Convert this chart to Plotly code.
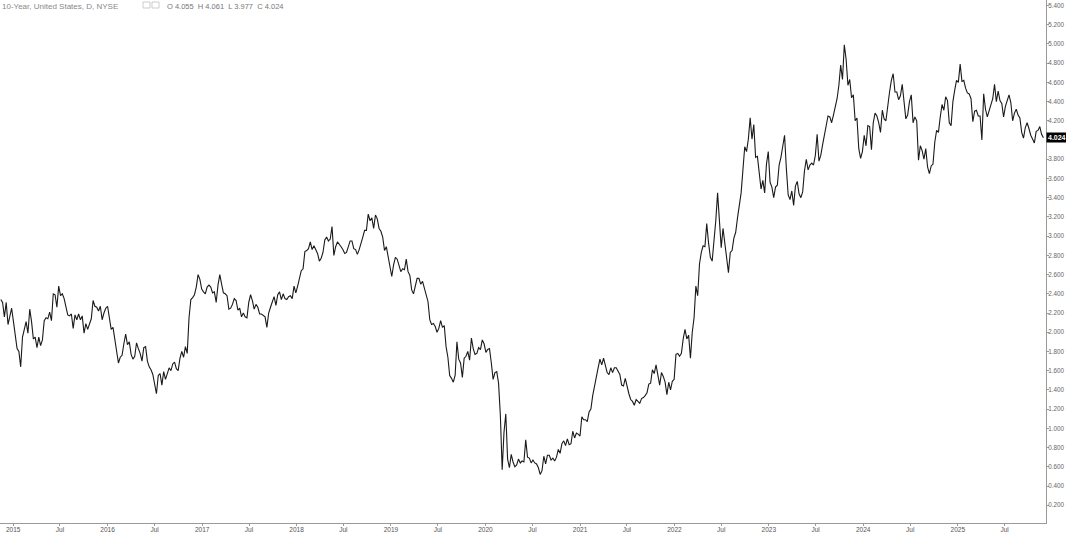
import pandas as pd
import plotly.graph_objects as go

# ---- data: weekly (Friday) closes of the US 10-Year yield ----
start_2014 = "2014-11-14"
y2014 = [2.34, 2.31, 2.16, 2.31, 2.08, 2.16, 2.25]
y2015 = [2.11, 1.95, 1.83, 1.80, 1.64, 1.95, 2.02, 2.11, 1.99, 2.24, 2.11, 1.93, 1.95,
         1.84, 1.95, 1.86, 1.92, 2.12, 2.15, 2.14, 2.21, 2.12, 2.40, 2.39, 2.26, 2.48,
         2.38, 2.40, 2.35, 2.26, 2.18, 2.17, 2.19, 2.04, 2.18, 2.13, 2.19, 2.13, 2.17,
         1.99, 2.09, 2.03, 2.08, 2.14, 2.33, 2.27, 2.26, 2.22, 2.27, 2.13, 2.20, 2.25]
y2016 = [2.27, 2.12, 2.03, 2.05, 1.93, 1.84, 1.68, 1.74, 1.76, 1.88, 1.98, 1.87, 1.90,
         1.77, 1.72, 1.75, 1.89, 1.83, 1.78, 1.70, 1.84, 1.85, 1.70, 1.64, 1.61, 1.56,
         1.44, 1.36, 1.55, 1.57, 1.45, 1.59, 1.51, 1.58, 1.63, 1.60, 1.67, 1.69, 1.62,
         1.60, 1.73, 1.80, 1.74, 1.85, 1.78, 2.15, 2.34, 2.36, 2.39, 2.47, 2.60, 2.55, 2.45]
y2017 = [2.42, 2.40, 2.47, 2.49, 2.47, 2.41, 2.42, 2.31, 2.49, 2.60, 2.50, 2.41, 2.40,
         2.38, 2.24, 2.25, 2.29, 2.35, 2.33, 2.23, 2.25, 2.16, 2.20, 2.16, 2.15, 2.31,
         2.39, 2.33, 2.24, 2.29, 2.26, 2.19, 2.19, 2.17, 2.16, 2.05, 2.20, 2.26, 2.33,
         2.37, 2.28, 2.39, 2.42, 2.34, 2.40, 2.35, 2.34, 2.37, 2.38, 2.35, 2.48, 2.41]
y2018 = [2.48, 2.55, 2.64, 2.66, 2.84, 2.85, 2.87, 2.94, 2.86, 2.90, 2.85, 2.82, 2.74,
         2.77, 2.83, 2.96, 2.99, 2.95, 2.97, 3.10, 2.80, 2.89, 2.94, 2.92, 2.89, 2.86,
         2.82, 2.83, 2.89, 2.95, 2.95, 2.87, 2.86, 2.81, 2.86, 2.94, 2.99, 3.06, 3.06,
         3.23, 3.16, 3.19, 3.08, 3.22, 3.18, 3.08, 3.05, 2.99, 2.85, 2.89, 2.79, 2.72]
y2019 = [2.58, 2.70, 2.78, 2.76, 2.68, 2.63, 2.66, 2.65, 2.76, 2.63, 2.59, 2.44, 2.40,
         2.50, 2.56, 2.56, 2.50, 2.53, 2.46, 2.39, 2.32, 2.13, 2.08, 2.09, 2.06, 2.00,
         2.04, 2.12, 2.05, 2.07, 1.85, 1.74, 1.55, 1.52, 1.48, 1.55, 1.90, 1.72, 1.68,
         1.53, 1.73, 1.75, 1.80, 1.71, 1.94, 1.83, 1.77, 1.78, 1.84, 1.82, 1.92, 1.88]
y2020 = [1.79, 1.82, 1.83, 1.68, 1.51, 1.58, 1.59, 1.47, 1.13, 0.57, 0.96, 1.15, 0.68,
         0.59, 0.73, 0.65, 0.60, 0.62, 0.68, 0.64, 0.66, 0.65, 0.88, 0.70, 0.69, 0.64,
         0.67, 0.64, 0.63, 0.59, 0.52, 0.56, 0.71, 0.63, 0.72, 0.72, 0.67, 0.69, 0.66,
         0.70, 0.78, 0.74, 0.84, 0.87, 0.82, 0.89, 0.83, 0.84, 0.97, 0.90, 0.95, 0.94]
y2021 = [0.92, 1.12, 1.09, 1.09, 1.07, 1.17, 1.20, 1.34, 1.44, 1.57, 1.63, 1.72, 1.66,
         1.73, 1.66, 1.58, 1.56, 1.63, 1.58, 1.63, 1.63, 1.59, 1.56, 1.45, 1.44, 1.52,
         1.43, 1.36, 1.30, 1.28, 1.24, 1.30, 1.28, 1.26, 1.31, 1.32, 1.34, 1.37, 1.46,
         1.47, 1.61, 1.57, 1.66, 1.55, 1.45, 1.58, 1.54, 1.48, 1.35, 1.48, 1.40, 1.49, 1.51]
y2022 = [1.77, 1.78, 1.75, 1.78, 1.93, 2.03, 1.93, 1.97, 1.73, 2.00, 2.15, 2.48, 2.38,
         2.71, 2.83, 2.90, 2.89, 3.13, 2.93, 2.78, 2.74, 2.94, 3.16, 3.45, 3.13, 2.88,
         3.08, 2.92, 2.77, 2.62, 2.83, 2.85, 2.98, 3.04, 3.19, 3.31, 3.45, 3.69, 3.93,
         3.88, 4.01, 4.23, 4.01, 4.16, 3.82, 3.83, 3.68, 3.49, 3.58, 3.45, 3.75, 3.88]
y2023 = [3.56, 3.51, 3.40, 3.51, 3.53, 3.74, 3.82, 3.95, 4.05, 3.70, 3.43, 3.38, 3.47,
         3.32, 3.52, 3.57, 3.44, 3.40, 3.46, 3.68, 3.80, 3.69, 3.74, 3.76, 3.74, 3.84,
         4.06, 3.78, 3.84, 3.95, 4.04, 4.15, 4.25, 4.24, 4.18, 4.26, 4.33, 4.43, 4.57,
         4.78, 4.63, 4.99, 4.84, 4.57, 4.63, 4.44, 4.47, 4.20, 4.23, 3.91, 3.81, 3.88]
y2024 = [4.05, 3.94, 4.15, 4.14, 3.90, 4.18, 4.28, 4.25, 4.18, 4.08, 4.31, 4.22, 4.20,
         4.38, 4.50, 4.62, 4.69, 4.50, 4.50, 4.42, 4.46, 4.58, 4.43, 4.22, 4.26, 4.40,
         4.47, 4.18, 4.24, 4.20, 3.79, 3.94, 3.89, 3.80, 3.91, 3.72, 3.65, 3.73, 3.75,
         3.98, 4.10, 4.08, 4.24, 4.37, 4.31, 4.45, 4.41, 4.18, 4.15, 4.40, 4.52, 4.62]
y2025 = [4.60, 4.79, 4.61, 4.62, 4.54, 4.49, 4.48, 4.43, 4.19, 4.30, 4.31, 4.25, 4.25,
         4.00, 4.48, 4.32, 4.24, 4.31, 4.38, 4.43, 4.58, 4.40, 4.51, 4.41, 4.38, 4.24,
         4.35, 4.42, 4.47, 4.39, 4.20, 4.28, 4.32, 4.26, 4.23, 4.08, 4.02, 4.13, 4.18,
         4.12, 4.05, 4.01, 3.97, 4.09, 4.10, 4.14, 4.06, 4.024]

tick_dates = ["2015-01-01", "2015-07-01", "2016-01-01", "2016-07-01", "2017-01-01",
              "2017-07-01", "2018-01-01", "2018-07-01", "2019-01-01", "2019-07-01",
              "2020-01-01", "2020-07-01", "2021-01-01", "2021-07-01", "2022-01-01",
              "2022-07-01", "2023-01-01", "2023-07-01", "2024-01-01", "2024-07-01",
              "2025-01-01", "2025-07-01"]
tick_labels = ["2015", "Jul", "2016", "Jul", "2017", "Jul", "2018", "Jul", "2019", "Jul",
               "2020", "Jul", "2021", "Jul", "2022", "Jul", "2023", "Jul", "2024", "Jul",
               "2025", "Jul"]
# price-scale labels (4.000 is hidden behind the last-value tag in the reference)
y_ticks = [0.2, 0.4, 0.6, 0.8, 1.0, 1.2, 1.4, 1.6, 1.8, 2.0, 2.2, 2.4, 2.6, 2.8, 3.0,
           3.2, 3.4, 3.6, 3.8, 4.2, 4.4, 4.6, 4.8, 5.0, 5.2, 5.4]

title_text = "10-Year, United States, D, NYSE"
ohlc_text = "O 4.055  H 4.061  L 3.977  C 4.024"

yearly = [(2014, y2014), (2015, y2015), (2016, y2016), (2017, y2017), (2018, y2018),
          (2019, y2019), (2020, y2020), (2021, y2021), (2022, y2022), (2023, y2023),
          (2024, y2024), (2025, y2025)]

dates, values = [], []
for year, vals in yearly:
    start = start_2014 if year == 2014 else f"{year}-01-01"
    dates.extend(pd.date_range(start, periods=len(vals), freq="W-FRI"))
    values.extend(vals)

FONT = "Liberation Sans"
fig = go.Figure()
fig.add_trace(go.Scatter(x=dates, y=values, mode="lines",
                         line=dict(color="#1a1a1a", width=1.1), hoverinfo="skip"))

PLOT_W = 1046.0
PLOT_H = 523.0
fig.update_layout(
    width=1066, height=535,
    margin=dict(l=0, r=20, t=0, b=12, autoexpand=False),
    paper_bgcolor="white", plot_bgcolor="white",
    showlegend=False,
    xaxis=dict(range=["2014-11-11", "2025-12-08"], tickvals=tick_dates, ticktext=tick_labels,
               showgrid=False, zeroline=False, showline=True, linecolor="#9a9a9a",
               linewidth=1, ticks="outside", ticklen=2, tickcolor="#9a9a9a",
               ticklabelstandoff=-2, automargin=False, ticklabeloverflow="allow",
               tickfont=dict(family=FONT, size=6.5, color="#555555")),
    yaxis=dict(side="right", range=[0.015, 5.457], tickvals=y_ticks, tickformat=".3f",
               showgrid=False, zeroline=False, showline=True, linecolor="#9a9a9a",
               linewidth=1, ticks="outside", ticklen=2, tickcolor="#9a9a9a",
               ticklabelstandoff=-2, automargin=False, ticklabeloverflow="allow",
               tickfont=dict(family=FONT, size=6.3, color="#666666")),
    annotations=[
        dict(x=1, xref="paper", y=values[-1], yref="y", text=f"<b>{values[-1]:.3f}</b>",
             xanchor="left", yanchor="middle", showarrow=False, bgcolor="black",
             font=dict(family=FONT, size=7, color="white"), borderpad=1, xshift=0),
        dict(x=0, xref="paper", y=1, yref="paper", text=title_text, xanchor="left",
             yanchor="top", xshift=0, yshift=0, showarrow=False,
             font=dict(family=FONT, size=8, color="#888888")),
        dict(x=165 / PLOT_W, xref="paper", y=1, yref="paper", text=ohlc_text, xanchor="left",
             yanchor="top", yshift=0, showarrow=False,
             font=dict(family=FONT, size=7.5, color="#777777")),
    ],
    shapes=[
        dict(type="rect", xref="paper", yref="paper", x0=143 / PLOT_W, x1=150 / PLOT_W,
             y0=1 - 8 / PLOT_H, y1=1 - 2 / PLOT_H, line=dict(color="#cccccc", width=1)),
        dict(type="rect", xref="paper", yref="paper", x0=152 / PLOT_W, x1=159 / PLOT_W,
             y0=1 - 8 / PLOT_H, y1=1 - 2 / PLOT_H, line=dict(color="#cccccc", width=1)),
    ],
)

fig.write_html("out.html", config={"displayModeBar": False},
               post_script="document.body.style.margin='0';")
